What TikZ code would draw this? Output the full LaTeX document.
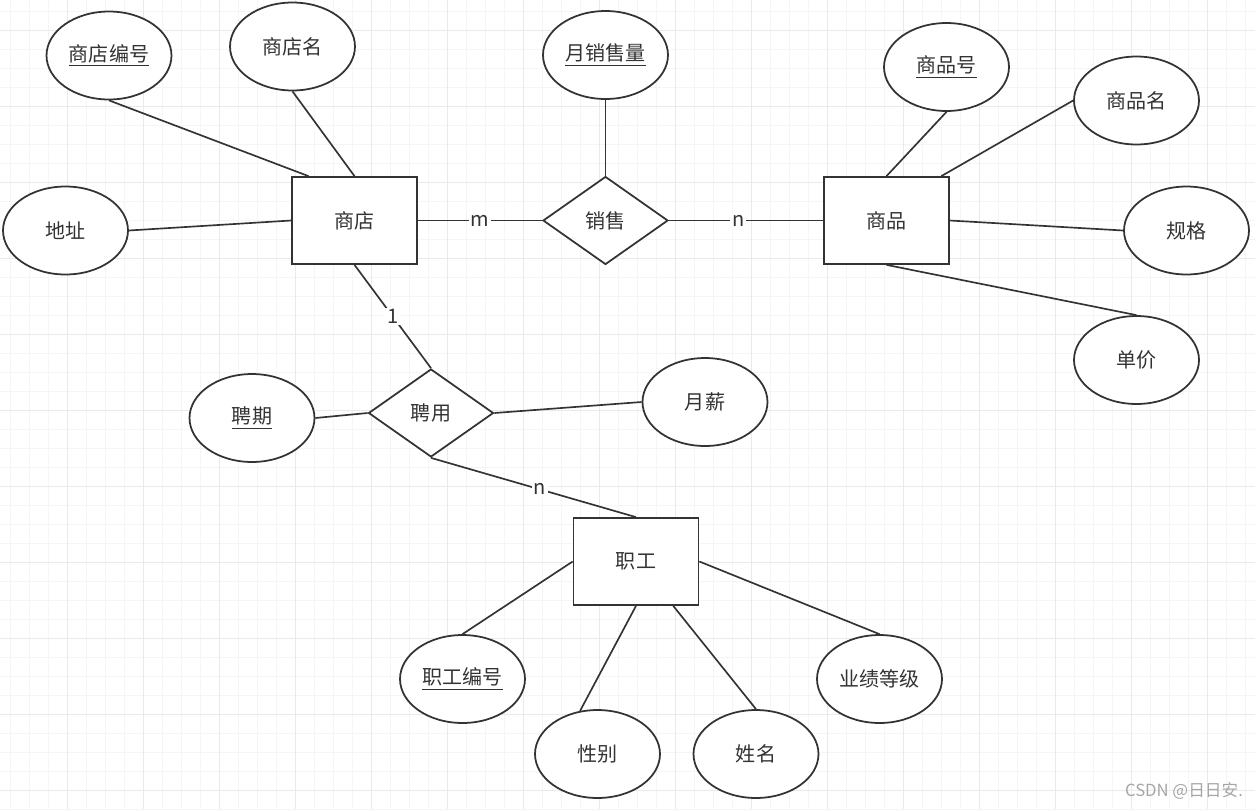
\documentclass[tikz,border=0pt]{standalone}
\usepackage{fontspec}
\setmainfont{Noto Sans CJK SC}
\usetikzlibrary{shapes.geometric}

\definecolor{ink}{HTML}{333333}
\definecolor{gridminor}{HTML}{F5F5F5}
\definecolor{gridmajor}{HTML}{EAEAEA}

\tikzset{
  entity/.style = {rectangle, draw=ink, fill=white, line width=1pt, inner sep=0pt,
                   minimum width=2.5cm, minimum height=1.74cm},
  attr/.style   = {ellipse, draw=ink, fill=white, line width=1pt, inner sep=0pt,
                   minimum width=2.5cm, minimum height=1.76cm},
  rel/.style    = {diamond, draw=ink, fill=white, line width=1pt, inner sep=0pt,
                   minimum width=2.5cm, minimum height=1.76cm},
  link/.style   = {draw=ink, line width=.95pt},
  card/.style   = {fill=white, inner sep=1pt, text=ink},
}

\begin{document}
\begin{tikzpicture}[x = .02cm, y = -.02cm, font = \fontsize{11.4}{13}\selectfont, text = ink]
        \useasboundingbox (0,0) rectangle (1255,809);
        \clip (0,0) rectangle (1255,809);
        % grid
        \foreach \i in {0,...,65} \draw[gridminor, line width=.55pt] ({10+19*\i},0) -- ({10+19*\i},809);
        \foreach \j in {0,...,42} \draw[gridminor, line width=.55pt] (0,{11+19*\j}) -- (1255,{11+19*\j});
        \foreach \i in {1,...,17} \draw[gridmajor, line width=.55pt] ({-9+76*\i},0) -- ({-9+76*\i},809);
        \foreach \j in {0,...,10} \draw[gridmajor, line width=.55pt] (0,{30+76*\j}) -- (1255,{30+76*\j});

        % entities and relations
        \node[entity] (shop)  at (354.5,220.5) {商店};
        \node[rel]    (sale)  at (605.5,220.5) {销售};
        \node[entity] (goods) at (886.5,220.5) {商品};
        \node[rel]    (hire)  at (431,413)     {聘用};
        \node[entity] (staff) at (636,561.5)   {职工};

        % attributes
        \node[attr] (shopno)   at (109,55.5)    {\underline{商店编号}};
        \node[attr] (shopname) at (292.5,46.5)  {商店名};
        \node[attr] (addr)     at (65.5,230.5)  {地址};
        \node[attr] (monthly)  at (605.5,55)    {\underline{月销售量}};
        \node[attr] (goodsno)  at (946.5,67)    {\underline{商品号}};
        \node[attr] (goodsname) at (1136.5,100.5) {商品名};
        \node[attr] (spec)     at (1186.5,230.5) {规格};
        \node[attr] (price)    at (1136.5,360)  {单价};
        \node[attr] (term)     at (252,418)     {\underline{聘期}};
        \node[attr] (salary)   at (705,402)     {月薪};
        \node[attr] (staffno)  at (462.5,679)   {\underline{职工编号}};
        \node[attr] (sex)      at (597.5,754)   {性别};
        \node[attr] (name)     at (756,754)     {姓名};
        \node[attr] (grade)    at (879.5,679)   {业绩等级};

        % connectors
        \draw[link] (shopno.south) -- (shop.136);
        \draw[link] (shopname.south) -- (shop.north);
        \draw[link] (addr.east) -- (shop.west);
        \draw[link] (shop.east) -- node[card, pos=.5] {m} (sale.west);
        \draw[link] (sale.east) -- node[card, pos=.45] {n} (goods.west);
        \draw[link] (monthly.south) -- (sale.north);
        \draw[link] (goodsno.south) -- (goods.north);
        \draw[link] (goodsname.west) -- (goods.39);
        \draw[link] (spec.west) -- (goods.east);
        \draw[link] (price.north) -- (goods.south);
        \draw[link] (shop.south) -- node[card, pos=.5] {1} (hire.north);
        \draw[link] (term.east) -- (hire.west);
        \draw[link] (hire.east) -- (salary.west);
        \draw[link] (hire.south) -- node[card, pos=.53] {n} (staff.north);
        \draw[link] (staff.west) -- (staffno.north);
        \draw[link] (staff.south) -- (sex.112);
        \draw[link] (staff.-50) -- (name.north);
        \draw[link] (staff.east) -- (grade.north);

        % watermark
        \node[text=black!35, font=\fontsize{9.5}{11}\selectfont] (mark) at (1184,791) {CSDN @日日安.};
      \end{tikzpicture}
\end{document}
